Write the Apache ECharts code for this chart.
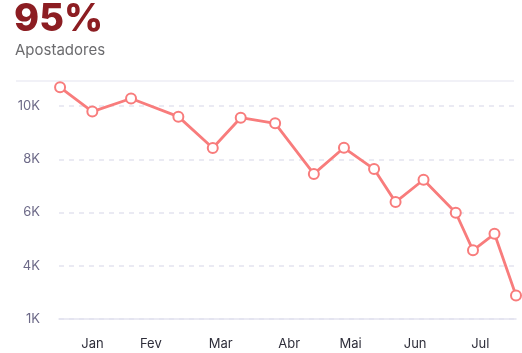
<!DOCTYPE html>
<html>
<head>
<meta charset="utf-8">
<script src="https://cdn.jsdelivr.net/npm/echarts@6/dist/echarts.min.js"></script>
<style>
  html, body { margin: 0; padding: 0; background: #fff; }
  #chart { width: 522px; height: 353px; }
</style>
</head>
<body>
<div id="chart"></div>
<script>
// dias (desde o primeiro registo) e numero de apostadores
var dias = [0, 15, 33, 55, 71, 84, 100, 118, 132, 146, 156, 169, 184, 192, 202, 212];
var apostadores = [10700, 9790, 10280, 9600, 8420, 9560, 9350, 7450, 8430, 7630, 6390, 7230, 5990, 4580, 5200, 2880];

// rotulos dos meses e onde ficam no eixo
var meses = ['Jan', 'Fev', 'Mar', 'Abr', 'Mai', 'Jun', 'Jul'];
var mesesPos = [15.1, 42.2, 74.7, 106.5, 135.1, 165.1, 195.4];

// marcas do eixo y
var yTicks = [2000, 4000, 6000, 8000, 10000];
var yTickLabels = ['1K', '4K', '6K', '8K', '10K'];

var pontos = [];
for (var i = 0; i < dias.length; i++) {
  pontos.push([dias[i], apostadores[i]]);
}

var corLinha = '#f87c7c';
var fonte = 'Inter, "Noto Sans", sans-serif';

var myChart = echarts.init(document.getElementById('chart'));
var option = {
  animation: false,
  title: [
    {
      text: '95%',
      left: 9,
      top: -4,
      textStyle: { color: '#8c1d22', fontSize: 38, fontWeight: 800, fontFamily: fonte }
    },
    {
      text: 'Apostadores',
      left: 10,
      top: 38,
      textStyle: { color: '#6b6b6e', fontSize: 15, fontWeight: 400, fontFamily: fonte }
    }
  ],
  graphic: [
    {
      type: 'line',
      shape: { x1: 16, y1: 81, x2: 514, y2: 81 },
      style: { stroke: '#ececf4', lineWidth: 1.5 }
    }
  ],
  grid: { left: 59, right: 6, top: 106, bottom: 34 },
  xAxis: {
    type: 'value',
    min: -0.5,
    max: 212,
    axisLine: { show: true, lineStyle: { color: '#e4e4ef', width: 1.5 } },
    axisTick: { show: false },
    splitLine: { show: false },
    axisLabel: {
      customValues: mesesPos,
      margin: 19,
      color: '#2e2e3a',
      fontSize: 13,
      fontFamily: fonte,
      formatter: function (v) {
        for (var j = 0; j < mesesPos.length; j++) {
          if (Math.abs(mesesPos[j] - v) < 0.01) return meses[j];
        }
        return '';
      }
    }
  },
  yAxis: {
    type: 'value',
    min: 2000,
    max: 10000,
    interval: 2000,
    axisLine: { show: false },
    axisTick: { show: false },
    splitLine: { lineStyle: { color: '#e4e4ef', type: [5, 5], width: 1.5 } },
    axisLabel: {
      margin: 19,
      color: '#6c6987',
      fontSize: 13,
      fontFamily: fonte,
      formatter: function (v) {
        var idx = yTicks.indexOf(v);
        return idx >= 0 ? yTickLabels[idx] : '';
      }
    }
  },
  series: [
    {
      type: 'line',
      name: 'Apostadores',
      data: pontos,
      clip: false,
      symbol: 'emptyCircle',
      symbolSize: 10,
      lineStyle: { color: corLinha, width: 2.8 },
      itemStyle: { color: corLinha, borderWidth: 2 }
    }
  ]
};

myChart.setOption(option);
</script>
</body>
</html>
